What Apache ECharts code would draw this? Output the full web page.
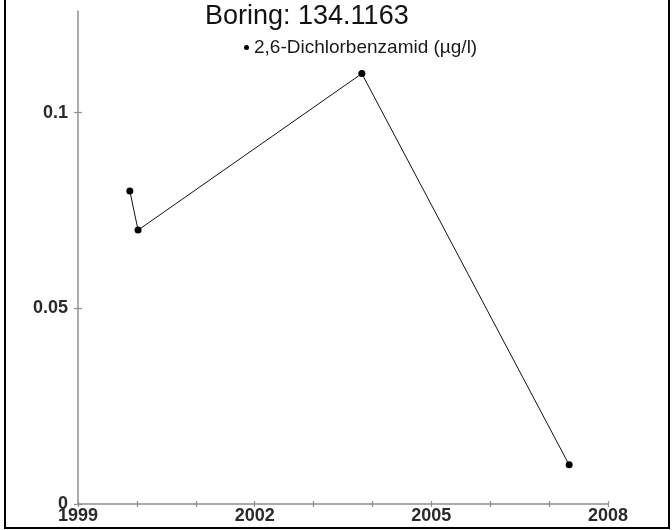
<!DOCTYPE html>
<html>
<head>
<meta charset="utf-8">
<script src="https://cdn.jsdelivr.net/npm/echarts@6/dist/echarts.min.js"></script>
<style>
html,body{margin:0;padding:0;background:#fff;}
#chart{width:672px;height:530px;}
</style>
</head>
<body>
<div id="chart"></div>
<script>
// Data (decimal years)
const titleText = 'Boring: 134.1163';
const seriesName = '2,6-Dichlorbenzamid (\u00b5g/l)';
const sampleYears = [1999.88, 2000.02, 2003.82, 2007.34];
const sampleValues = [0.08, 0.07, 0.11, 0.01];
const xLabelValues = [1999, 2002, 2005, 2008];
const xTickValues = [1999, 2000, 2001, 2002, 2003, 2004, 2005, 2006, 2007, 2008];
const yLabelValues = [0, 0.05, 0.1];

const points = sampleYears.map((y, i) => [y, sampleValues[i]]);

const axisColor = '#8f8f8f';
const labelFont = { fontFamily: 'Liberation Sans', fontSize: 18, fontWeight: 'bold', color: '#2a2a2a' };

const chart = echarts.init(document.getElementById('chart'), null, { renderer: 'canvas' });
chart.setOption({
  animation: false,
  backgroundColor: '#fff',
  title: {
    text: titleText,
    left: 200,
    top: -2,
    textStyle: { fontFamily: 'Liberation Sans', fontSize: 27, fontWeight: 'normal', color: '#111' }
  },
  legend: {
    data: [{ name: seriesName, icon: 'circle' }],
    left: 239,
    top: 33,
    itemWidth: 5,
    itemHeight: 5,
    itemGap: 5,
    textStyle: { fontFamily: 'Liberation Sans', fontSize: 19, color: '#1a1a1a' }
  },
  grid: { left: 78, right: 64, top: 11, bottom: 26, containLabel: false },
  xAxis: [{
    type: 'value', min: 1999, max: 2008, position: 'bottom',
    axisLine: { show: true, onZero: false, lineStyle: { color: axisColor, width: 1.5 } },
    axisTick: { show: true, customValues: xTickValues, length: 3, lineStyle: { color: axisColor, width: 1.2 } },
    axisLabel: Object.assign({ customValues: xLabelValues, margin: 3, formatter: v => String(v) }, labelFont),
    splitLine: { show: false }
  }, {
    type: 'value', min: 1999, max: 2008, position: 'bottom',
    axisLine: { show: false },
    axisTick: { show: true, inside: true, customValues: xTickValues, length: 3, lineStyle: { color: axisColor, width: 1.2 } },
    axisLabel: { show: false },
    splitLine: { show: false }
  }],
  yAxis: [{
    type: 'value', min: 0, max: 0.126, position: 'left',
    axisLine: { show: true, onZero: false, lineStyle: { color: axisColor, width: 1.5 } },
    axisTick: { show: true, customValues: yLabelValues, length: 4, lineStyle: { color: axisColor, width: 1.2 } },
    axisLabel: Object.assign({ customValues: yLabelValues, margin: 10, formatter: v => String(v) }, labelFont),
    splitLine: { show: false }
  }, {
    type: 'value', min: 0, max: 0.126, position: 'left',
    axisLine: { show: false },
    axisTick: { show: true, inside: true, customValues: yLabelValues, length: 4, lineStyle: { color: axisColor, width: 1.2 } },
    axisLabel: { show: false },
    splitLine: { show: false }
  }],
  graphic: [{
    type: 'rect',
    shape: { x: 5, y: -10, width: 664, height: 538 },
    style: { fill: 'none', stroke: '#000', lineWidth: 2 },
    silent: true,
    z: 100
  }],
  series: [{
    name: seriesName,
    type: 'line',
    xAxisIndex: 0,
    yAxisIndex: 0,
    data: points,
    symbol: 'circle',
    symbolSize: 7,
    itemStyle: { color: '#000' },
    lineStyle: { color: '#111', width: 1 }
  }]
});
</script>
</body>
</html>
